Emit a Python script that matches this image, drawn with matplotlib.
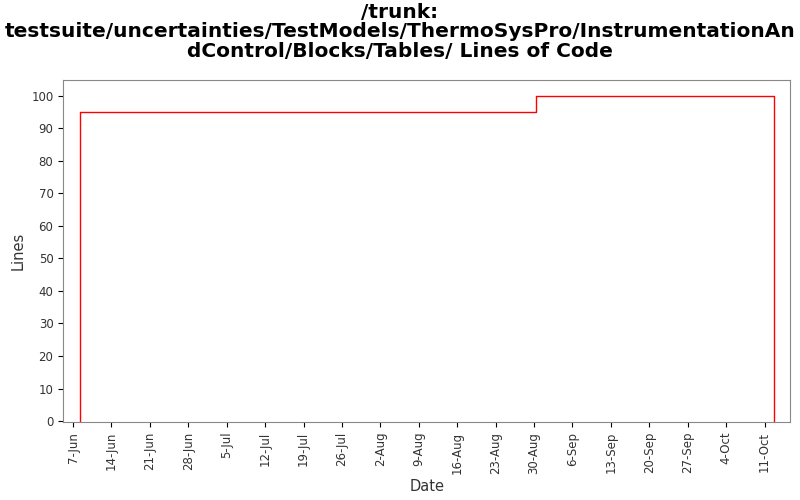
import datetime as dt
import matplotlib
matplotlib.use('Agg')
import matplotlib.pyplot as plt

# step points of the line-count history
dates = [dt.datetime(2009, 6, 8, 8), dt.datetime(2009, 6, 8, 8),
         dt.datetime(2009, 8, 30, 10), dt.datetime(2009, 8, 30, 10),
         dt.datetime(2009, 10, 12, 19), dt.datetime(2009, 10, 12, 19)]
lines = [0, 95, 95, 100, 100, 0]

fig = plt.figure(figsize=(8, 5), dpi=100)
ax = fig.add_axes([0.079, 0.156, 0.909, 0.684])
ax.plot(dates, lines, color='#ff0000', linewidth=1)

ax.set_xlim(dt.datetime(2009, 6, 5, 5), dt.datetime(2009, 10, 15, 17))
ax.set_ylim(-0.3, 104.9)
ax.set_yticks(range(0, 101, 10))
ticks = [dt.datetime(2009, 6, 7) + dt.timedelta(days=7 * i) for i in range(19)]
ax.set_xticks(ticks)
ax.set_xticklabels([f"{t.day}-{t.strftime('%b')}" for t in ticks],
                   rotation=90, fontsize=8.5, color='#333333')
ax.tick_params(axis='y', labelsize=8.5, labelcolor='#333333')
for s in ax.spines.values():
    s.set_color('#888888')

ax.set_xlabel('Date', fontsize=10.5, color='#333333')
ax.set_ylabel('Lines', fontsize=10.5, color='#333333')
fig.suptitle('/trunk:\ntestsuite/uncertainties/TestModels/ThermoSysPro/InstrumentationAn\n'
             'dControl/Blocks/Tables/ Lines of Code',
             fontsize=14.5, fontweight='bold', y=0.995, linespacing=1.05)

fig.savefig('out.png', dpi=100)
